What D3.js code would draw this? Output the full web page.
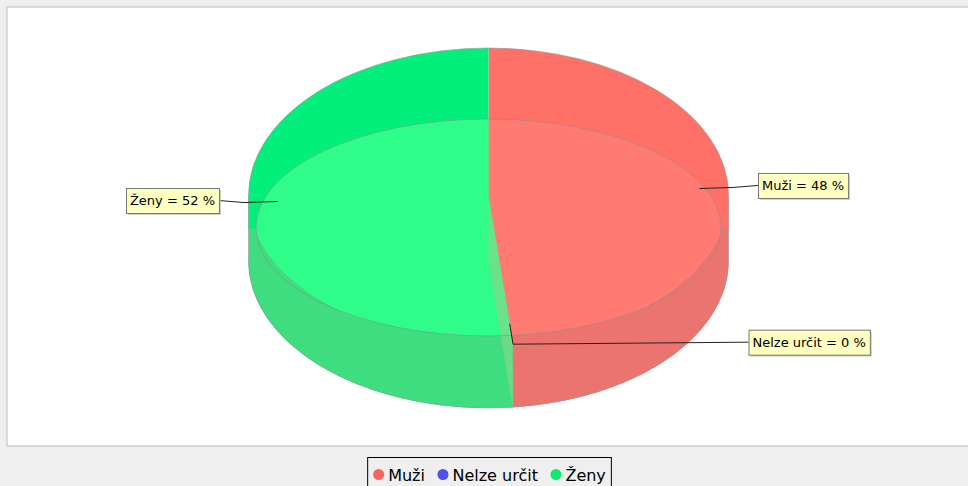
<!DOCTYPE html>
<html lang="cs">
<head>
<meta charset="UTF-8">
<title>Pohlaví</title>
<script src="https://cdnjs.cloudflare.com/ajax/libs/d3/7.8.5/d3.min.js"></script>
<style>
  html, body { margin: 0; padding: 0; background: #eeefee; }
  svg { display: block; font-family: 'DejaVu Sans', sans-serif; }
</style>
</head>
<body>
<svg id="chart" width="968" height="486"></svg>
<script>
// data
const categories = ["Muži", "Nelze určit", "Ženy"];
const shares = [48.4, 0, 51.6];

// colours (top rim, top face, side, legend)
const topColor = d3.scaleOrdinal().domain(categories).range(["#ff7167", "#5555ff", "#03ef7b"]);
const faceColor = d3.scaleOrdinal().domain(categories).range(["#ff7b72", "#6b6bff", "#30fd89"]);
const sideColor = d3.scaleOrdinal().domain(categories).range(["#ec746e", "#5050dd", "#3edd80"]);
const keyColor = d3.scaleOrdinal().domain(categories).range(["#f5645e", "#5050ee", "#12e86e"]);

const W = 968, H = 486;
const svg = d3.select("#chart");

// plot area
svg.append("rect").attr("x", 7).attr("y", 7).attr("width", W + 10).attr("height", 439)
  .attr("fill", "#fff").attr("stroke", "#cfcfcf").attr("stroke-width", 1.5);

// pie geometry
const cx = 488.5, rx = 240;
const cyO = 195, ryO = 147;          // upper ellipse
const cyF = 227.5, ryF = 108.5, rxF = 232.5;   // lighter face
const cyB = 261;                      // bottom ellipse

const pt = (cy, ry, a, k = 1, r = rx) => [cx + k * r * Math.sin(a), cy - k * ry * Math.cos(a)];

const slices = d3.pie().sort(null).value(d => d)(shares);
const arc = d3.arc().innerRadius(0).outerRadius(1);

const g = svg.append("g");

// upper ellipse
g.append("g").attr("transform", `translate(${cx},${cyO}) scale(${rx},${ryO})`)
  .selectAll("path").data(slices).join("path")
  .attr("d", arc)
  .attr("fill", (d, i) => topColor(categories[i]));

function frontRange(d) {
  const a0 = Math.max(d.startAngle, Math.PI / 2);
  const a1 = Math.min(d.endAngle, 3 * Math.PI / 2);
  return a1 > a0 ? [a0, a1] : null;
}

// sides: band below the upper ellipse and band below the face
slices.forEach((d, i) => {
  const fr = frontRange(d);
  if (!fr) return;
  const n = 60;
  const as = d3.range(n + 1).map(j => fr[0] + (fr[1] - fr[0]) * j / n);
  const bottom = as.slice().reverse().map(a => pt(cyB, ryO, a));
  const tops = [as.map(a => pt(cyO, ryO, a)), as.map(a => pt(cyF, ryF, a, 1, rxF))];
  tops.forEach(top => {
    g.append("path").attr("d", d3.line()(top.concat(bottom)) + "Z").attr("fill", sideColor(categories[i]));
  });
});

// rim between upper ellipse and face on the edges
slices.forEach((d, i) => {
  const fr = frontRange(d);
  if (!fr) return;
  const xs = d3.range(41).map(j => pt(cyO, ryO, fr[0] + (fr[1] - fr[0]) * j / 40)[0]);
  g.append("rect")
    .attr("x", d3.min(xs)).attr("y", cyO)
    .attr("width", d3.max(xs) - d3.min(xs)).attr("height", cyF - cyO + 1)
    .attr("fill", topColor(categories[i]));
});

// lighter face
svg.append("clipPath").attr("id", "faceClip")
  .append("ellipse").attr("cx", cx).attr("cy", cyF).attr("rx", rxF).attr("ry", ryF);

g.append("g").attr("clip-path", "url(#faceClip)")
  .append("g").attr("transform", `translate(${cx},${cyO}) scale(${rx},${ryO})`)
  .selectAll("path").data(slices).join("path")
  .attr("d", arc)
  .attr("fill", (d, i) => faceColor(categories[i]));

// radial wall seen from the front
slices.forEach((d, i) => {
  if (d.value <= 0) return;
  const a = d.startAngle;
  if (a <= Math.PI / 2 || a >= 3 * Math.PI / 2) return;
  const pts = [[cx, cyO], pt(cyO, ryO, a), pt(cyB, ryO, a), [cx, cyB]];
  g.append("path").attr("d", d3.line()(pts) + "Z")
    .attr("fill", "#7ad98a").attr("opacity", 0.8);
});

// outlines
g.append("ellipse").attr("cx", cx).attr("cy", cyF).attr("rx", rxF).attr("ry", ryF)
  .attr("fill", "none").attr("stroke", "#8a8a8a").attr("stroke-opacity", 0.55).attr("stroke-width", 1);
g.append("path")
  .attr("d", `M${cx - rx},${cyO} A${rx},${ryO} 0 0 1 ${cx + rx},${cyO} L${cx + rx},${cyB} A${rx},${ryO} 0 0 1 ${cx - rx},${cyB} Z`)
  .attr("fill", "none").attr("stroke", "#9a9a9a").attr("stroke-opacity", 0.6).attr("stroke-width", 1);

// labels
const labels = svg.append("g");
slices.forEach((d, i) => {
  const mid = (d.startAngle + d.endAngle) / 2;
  const inner = pt(cyO, ryO, mid, 0.88);
  const edge = pt(cyO, ryO, mid, 1.02);
  const right = Math.sin(mid) >= 0;
  const boxY = edge[1] - 2;
  const txt = `${categories[i]} = ${Math.round(d.value)}\u00a0%`;

  const lab = labels.append("g");
  const t = lab.append("text").attr("font-size", 13).attr("fill", "#000").text(txt);
  const tw = t.node().getComputedTextLength();
  const bw = tw + 8, bh = 25;
  const bx = right ? Math.max(edge[0] + 25, cx + rx + 20) : Math.min(edge[0] - 25, cx - rx - 20) - bw;

  labels.insert("path", ":first-child")
    .attr("d", d3.line()([inner, edge, [right ? bx : bx + bw, boxY]]))
    .attr("fill", "none").attr("stroke", "#222").attr("stroke-width", 1);

  lab.insert("rect", "text").attr("x", bx + 2).attr("y", boxY - bh / 2 + 2).attr("width", bw).attr("height", bh)
    .attr("fill", "#bdbdbd").attr("opacity", 0.7);
  lab.insert("rect", "text").attr("x", bx + 0.5).attr("y", boxY - bh / 2 + 0.5).attr("width", bw).attr("height", bh)
    .attr("fill", "#ffffc0").attr("stroke", "#777").attr("stroke-width", 1);
  t.attr("x", bx + 4).attr("y", boxY + 4.5);
});

// legend
const leg = svg.append("g");
const items = leg.selectAll("g").data(categories).join("g");
items.append("circle").attr("r", 5.5).attr("cy", 474.5).attr("fill", d => keyColor(d));
items.append("text").attr("font-size", 16).attr("y", 480.5).attr("fill", "#000").text(d => d);
let xx = 0;
items.each(function () {
  const it = d3.select(this);
  const tw = it.select("text").node().getComputedTextLength();
  it.select("circle").attr("cx", xx + 5.5);
  it.select("text").attr("x", xx + 15);
  xx += 15 + tw + 12.5;
});
const legW = 6 + (xx - 12.5) + 5;
const legX = 489 - legW / 2;
items.attr("transform", `translate(${legX + 6},0)`);
leg.insert("rect", ":first-child").attr("x", legX + 0.5).attr("y", 457.5).attr("width", legW).attr("height", 40)
  .attr("fill", "none").attr("stroke", "#000").attr("stroke-width", 1);
</script>
</body>
</html>
